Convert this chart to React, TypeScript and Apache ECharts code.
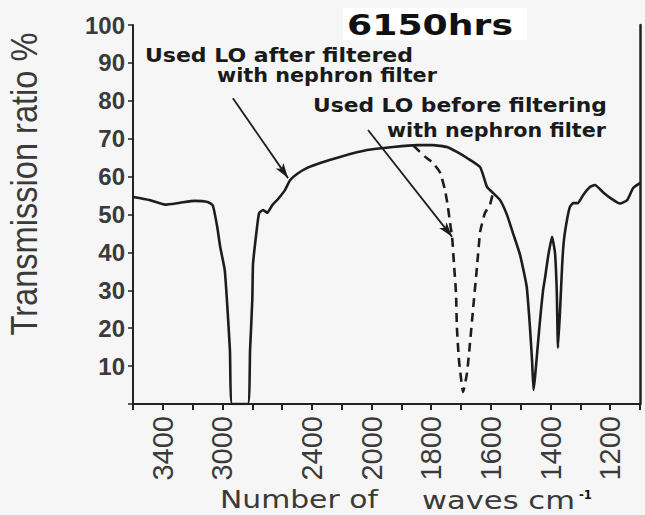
import React, { useEffect, useRef } from "react";
import * as echarts from "echarts";

// ---- data (wavenumber cm-1, transmission %) ----
const solidWavenumbers = [
  3600, 3490, 3385, 3285, 3185, 3100, 3065, 3035, 3015, 2985, 2970, 2950, 2935,
  2830, 2815, 2800, 2795, 2768, 2754, 2727, 2700, 2667, 2627, 2580, 2546, 2500,
  2432, 2345, 2212, 2030, 1928, 1848, 1794, 1747, 1714, 1680, 1636, 1613, 1593,
  1569, 1546, 1526, 1502, 1480, 1469, 1462, 1457, 1452, 1442, 1432, 1425,
  1418, 1408, 1395, 1385, 1379, 1375, 1368, 1361, 1355, 1345, 1335, 1324, 1308,
  1291, 1267, 1251, 1224, 1200, 1167, 1143, 1123, 1100,
];
const solidTransmission = [
  54.6, 53.8, 52.6, 53.1, 53.6, 53.3, 52.4, 46.7, 41.4, 35.4, 27.4, 14.2, 0,
  0, 14.2, 27.4, 37.0, 46.7, 50.4, 51.2, 50.4, 52.4, 54.1, 56.5, 59.1, 60.7,
  62.3, 63.6, 65.2, 67.0, 67.8, 68.3, 68.3, 67.8, 66.5, 64.9, 62.5, 57.3, 55.7,
  53.8, 49.9, 45.1, 39.3, 31.0, 20.3, 11.6, 3.7, 7.1, 16.1, 24.8, 30.0,
  33.5, 39.0, 44.1, 39.8, 29.5, 14.8, 24.8, 36.7, 43.3, 48.5, 52.0, 53.0, 53.0,
  55.1, 57.3, 57.8, 55.9, 54.4, 52.9, 53.8, 57.0, 58.3,
];
const dashedWavenumbers = [
  1860, 1820, 1794, 1770, 1754, 1744, 1737, 1730, 1724, 1717, 1714, 1707, 1693,
  1680, 1670, 1660, 1646, 1636, 1620, 1603, 1593,
];
const dashedTransmission = [
  68.2, 65.2, 63.6, 61.0, 56.5, 52.0, 47.8, 44.1, 37.2, 29.3, 20.3, 11.6, 3.2,
  8.2, 16.1, 24.8, 36.7, 45.4, 50.4, 52.6, 55.7,
];
const xTickLabels = [3400, 3000, 2400, 2000, 1800, 1600, 1400, 1200];
const yTickLabels = [10, 20, 30, 40, 50, 60, 70, 80, 90, 100];
const titleText = "6150hrs";
const afterLines = ["Used LO after filtered", "with nephron filter"];
const beforeLines = ["Used LO before filtering", "with nephron filter"];
const arrowAfter = [[2930, 80.7], [2560, 59.6]];
const arrowBefore = [[2024, 72.3], [1730, 44.1]];
const yAxisTitle = "Transmission ratio %";
const xAxisTitleA = "Number of";
const xAxisTitleB = "waves cm";
const xAxisTitleSup = "-1";

// IR chart scale: 200 cm-1 per unit above 2000, 100 cm-1 per unit below.
const toAxis = (w: number) => (w >= 2000 ? (3600 - w) / 200 : 8 + (2000 - w) / 100);
const fromAxis = (u: number) => (u <= 8 ? 3600 - 200 * u : 2000 - 100 * (u - 8));

function measure(text: string, font: string): number {
  const ctx = document.createElement("canvas").getContext("2d");
  if (!ctx) return text.length * 10;
  ctx.font = font;
  return ctx.measureText(text).width;
}

function fitText(
  text: string,
  left: number,
  right: number,
  y: number,
  size: number,
  family: string,
  weight: string,
  fill: string
) {
  const w = measure(text, `${weight} ${size}px ${family}`);
  return {
    type: "text",
    x: left,
    y,
    scaleX: (right - left) / w,
    z: 20,
    silent: true,
    style: {
      text,
      fontSize: size,
      fontFamily: family,
      fontWeight: weight,
      fill,
      textAlign: "left",
      textVerticalAlign: "middle",
    },
  };
}

export default function App() {
  const ref = useRef<HTMLDivElement>(null);

  useEffect(() => {
    if (!ref.current) return;
    const chart = echarts.init(ref.current, undefined, { renderer: "svg" });
    const ink = "#1d1d1d";
    const axisInk = "#222";
    const labelInk = "#3a3a3a";
    const dejavu = '"DejaVu Sans"';
    const arial = '"Liberation Sans", Arial';

    const yName = (() => {
      const size = 36;
      const w = measure(yAxisTitle, `normal ${size}px ${arial}`);
      return {
        type: "text",
        x: 24,
        y: 184,
        rotation: Math.PI / 2,
        scaleX: 303 / w,
        z: 20,
        silent: true,
        style: {
          text: yAxisTitle,
          fontSize: size,
          fontFamily: arial,
          fill: labelInk,
          textAlign: "center",
          textVerticalAlign: "middle",
        },
      };
    })();

    const option: any = {
      animation: false,
      backgroundColor: "#f6f6f6",
      grid: { left: 133, right: 5, top: 25, bottom: 111, containLabel: false },
      xAxis: {
        type: "value",
        min: 0,
        max: 17,
        interval: 1,
        axisLine: { show: true, lineStyle: { color: axisInk, width: 2 } },
        axisTick: { show: true, length: 6, lineStyle: { color: axisInk, width: 2 } },
        splitLine: { show: false },
        axisLabel: {
          rotate: 90,
          margin: 12,
          fontSize: 29,
          fontFamily: '"Liberation Sans Narrow", "Liberation Sans", Arial',
          color: labelInk,
          formatter: (v: number) => {
            const w = Math.round(fromAxis(v));
            return xTickLabels.includes(w) ? String(w) : "";
          },
        },
      },
      yAxis: [
        {
          type: "value",
          min: 0,
          max: 100,
          interval: 10,
          axisLine: { show: true, lineStyle: { color: axisInk, width: 2 } },
          axisTick: { show: true, length: 5, lineStyle: { color: axisInk, width: 1.5 } },
          splitLine: { show: false },
          axisLabel: {
            margin: 8,
            fontSize: 24,
            fontWeight: "bold",
            fontFamily: arial,
            color: labelInk,
            formatter: (v: number) => (yTickLabels.includes(v) ? String(v) : ""),
          },
        },
        {
          type: "value",
          position: "right",
          min: 0,
          max: 100,
          interval: 10,
          axisLine: { show: true, lineStyle: { color: axisInk, width: 2.5 } },
          axisTick: { show: false },
          axisLabel: { show: false },
          splitLine: { show: false },
        },
      ],
      series: [
        {
          type: "line",
          data: solidWavenumbers.map((w, i) => [toAxis(w), solidTransmission[i]]),
          symbol: "none",
          smooth: 0.15,
          silent: true,
          z: 3,
          lineStyle: { color: ink, width: 2.6 },
          markLine: {
            silent: true,
            symbol: ["none", "arrow"],
            symbolSize: [7, 15],
            label: { show: false },
            lineStyle: { color: ink, width: 1.8, type: "solid" },
            emphasis: { disabled: true },
            data: [arrowAfter, arrowBefore].map((a) => [
              { coord: [toAxis(a[0][0]), a[0][1]] },
              { coord: [toAxis(a[1][0]), a[1][1]] },
            ]),
          },
        },
        {
          type: "line",
          data: dashedWavenumbers.map((w, i) => [toAxis(w), dashedTransmission[i]]),
          symbol: "none",
          smooth: 0.15,
          silent: true,
          z: 3,
          lineStyle: { color: ink, width: 2.6, type: [9, 6] },
        },
      ],
      graphic: [
        { type: "rect", shape: { x: 343, y: 8, width: 184, height: 32 }, style: { fill: "#ffffff" }, z: 10, silent: true },
        fitText(titleText, 347, 513, 25, 29, dejavu, "bold", "#111"),
        fitText(afterLines[0], 145, 413, 55, 20, dejavu, "bold", "#1a1a1a"),
        fitText(afterLines[1], 217, 437, 75, 20, dejavu, "bold", "#1a1a1a"),
        fitText(beforeLines[0], 313, 607, 105, 20, dejavu, "bold", "#1a1a1a"),
        fitText(beforeLines[1], 387, 606, 130, 20, dejavu, "bold", "#1a1a1a"),
        fitText(xAxisTitleA, 220, 378, 500, 24, dejavu, "normal", labelInk),
        fitText(xAxisTitleB, 422, 575, 500, 24, dejavu, "normal", labelInk),
        fitText(xAxisTitleSup, 579, 592, 495, 13, dejavu, "bold", "#111"),
        yName,
      ],
    };
    chart.setOption(option);
    return () => chart.dispose();
  }, []);

  return (
    <div
      ref={ref}
      style={{ position: "fixed", left: 0, top: 0, width: 645, height: 515 }}
    />
  );
}
